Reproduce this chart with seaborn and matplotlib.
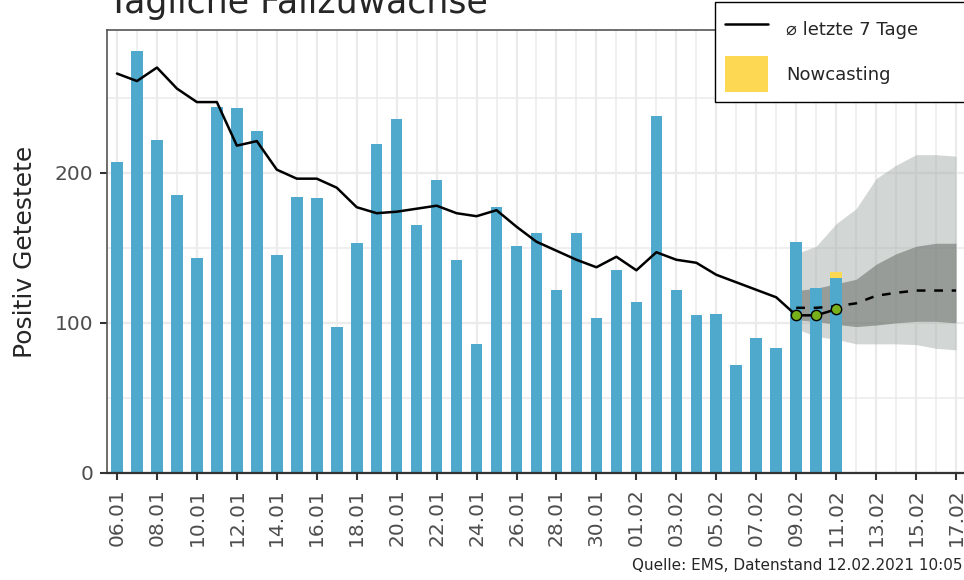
import numpy as np
import pandas as pd
import seaborn as sns
import matplotlib.pyplot as plt
from matplotlib.lines import Line2D
from matplotlib.patches import Patch

# dates 06.01 - 17.02.2021
dates = pd.date_range("2021-01-06", "2021-02-17")
date_labels = list(dates.strftime("%d.%m"))

# daily positive cases 06.01 - 11.02
cases = [207, 281, 222, 185, 143, 244, 243, 228, 145, 184,
         183, 97, 153, 219, 236, 165, 195, 142, 86, 177,
         151, 160, 122, 160, 103, 135,
         114, 238, 122, 105, 106, 72, 90, 83, 154, 123, 130]
# nowcasting addition (only last day)
nowcast = [0] * 36 + [4]

# 7-day mean
mean7 = [266, 261, 270, 256, 247, 247, 218, 221, 202, 196,
         196, 190, 177, 173, 174, 176, 178, 173, 171, 175,
         164, 154, 148, 142, 137, 144,
         135, 147, 142, 140, 132, 127, 122, 117, 105, 105, 109]

# forecast 09.02 - 17.02
fc_start = 34
fc_mean = [110, 110, 111, 113, 118, 120, 121.5, 121.5, 121.5]
fc_hi_outer = [146, 151, 166, 176, 196, 205, 212, 212, 211]
fc_lo_outer = [96, 91, 89, 86, 86, 86, 85.5, 83, 82]
fc_hi_inner = [121.5, 123, 126, 129, 139, 146, 151, 153, 153]
fc_lo_inner = [102, 101, 99, 97.5, 98.5, 100, 101, 101, 100]

bar_color = "#4FA9CC"
now_color = "#FDD853"

sns.set_theme(style="white")
plt.rcParams["font.family"] = ["DejaVu Sans"]

days = np.arange(len(date_labels))
bar_days = days[:len(cases)]
fc_days = days[fc_start:fc_start + len(fc_mean)]

bars = pd.DataFrame({"day": bar_days, "cases": cases,
                     "total": np.array(cases) + np.array(nowcast)})

fig = plt.figure(figsize=(9.64, 5.8), dpi=100)
ax = fig.add_axes([107 / 964, 107 / 580, 857 / 964, 443 / 580])

# forecast bands (under the bars)
ax.fill_between(fc_days, fc_lo_outer, fc_hi_outer, color="#A7AFAA", alpha=0.5, lw=0, zorder=0.7)
ax.fill_between(fc_days, fc_lo_inner, fc_hi_inner, color="#4F5752", alpha=0.45, lw=0, zorder=0.8)

# bars (nowcast on top of reported cases)
sns.barplot(data=bars, x="day", y="total", native_scale=True, width=0.58,
            color=now_color, saturation=1, errorbar=None, linewidth=0, ax=ax)
sns.barplot(data=bars, x="day", y="cases", native_scale=True, width=0.58,
            color=bar_color, saturation=1, errorbar=None, linewidth=0, ax=ax)
for p in ax.patches:
    p.set_zorder(2)

# lines
sns.lineplot(x=bar_days, y=mean7, color="black", lw=1.8, ax=ax, zorder=3)
sns.lineplot(x=fc_days, y=fc_mean, color="black", lw=1.8, ax=ax, zorder=3,
             linestyle=(0, (3.5, 3.5)))
sns.scatterplot(x=bar_days[fc_start:], y=mean7[fc_start:], color="#78B01C",
                edgecolor="black", linewidth=1, s=55, ax=ax, zorder=4)

ax.set_xlim(-0.5, 42.4)
ax.set_ylim(0, 295)
ax.set_xlabel("")
ax.set_ylabel("")

ax.set_xticks(days[::2])
ax.set_xticklabels(date_labels[::2], rotation=90)
ax.set_xticks(days, minor=True)
ax.set_yticks([0, 100, 200])
ax.set_yticks([50, 150, 250], minor=True)

ax.set_axisbelow(True)
ax.grid(which="major", color="#EBEBEB", lw=1.6, zorder=0.5)
ax.grid(which="minor", color="#EBEBEB", lw=1.1, zorder=0.5)

ax.tick_params(which="major", direction="out", length=5, width=1.5, color="#333333",
               labelcolor="#4D4D4D", labelsize=14.5)
ax.tick_params(axis="x", pad=6)
ax.tick_params(axis="y", pad=5, left=True)
ax.tick_params(axis="x", bottom=True)
ax.tick_params(which="minor", length=0)

for side in ["left", "top"]:
    ax.spines[side].set_color("#555555")
    ax.spines[side].set_linewidth(1.2)
ax.spines["bottom"].set_color("#333333")
ax.spines["bottom"].set_linewidth(1.6)
ax.spines["right"].set_visible(False)

fig.text(107 / 964, 1 - 13 / 580, "Tägliche Fallzuwächse", fontsize=25, va="baseline", ha="left")
fig.text(25 / 964, 1 - 252 / 580, "Positiv Getestete", fontsize=18, rotation=90,
         va="center", ha="center")
fig.text(962 / 964, 1 - 570 / 580, "Quelle: EMS, Datenstand 12.02.2021 10:05",
         fontsize=11, ha="right", va="baseline")

handles = [Line2D([], [], color="black", lw=1.8),
           Patch(facecolor=now_color, edgecolor="none")]
leg = fig.legend(handles, ["⌀ letzte 7 Tage", "Nowcasting"], loc="upper left",
                 bbox_to_anchor=(715 / 964, 1 - 101 / 580, 0.3, 99 / 580), mode="expand",
                 fontsize=13, frameon=True, fancybox=False, framealpha=1,
                 edgecolor="black", borderpad=0.55, handlelength=2.4, handleheight=2.7,
                 labelspacing=0.45, handletextpad=1.0, borderaxespad=0)
leg.get_frame().set_linewidth(1.0)

fig.savefig("out.png", dpi=100)
